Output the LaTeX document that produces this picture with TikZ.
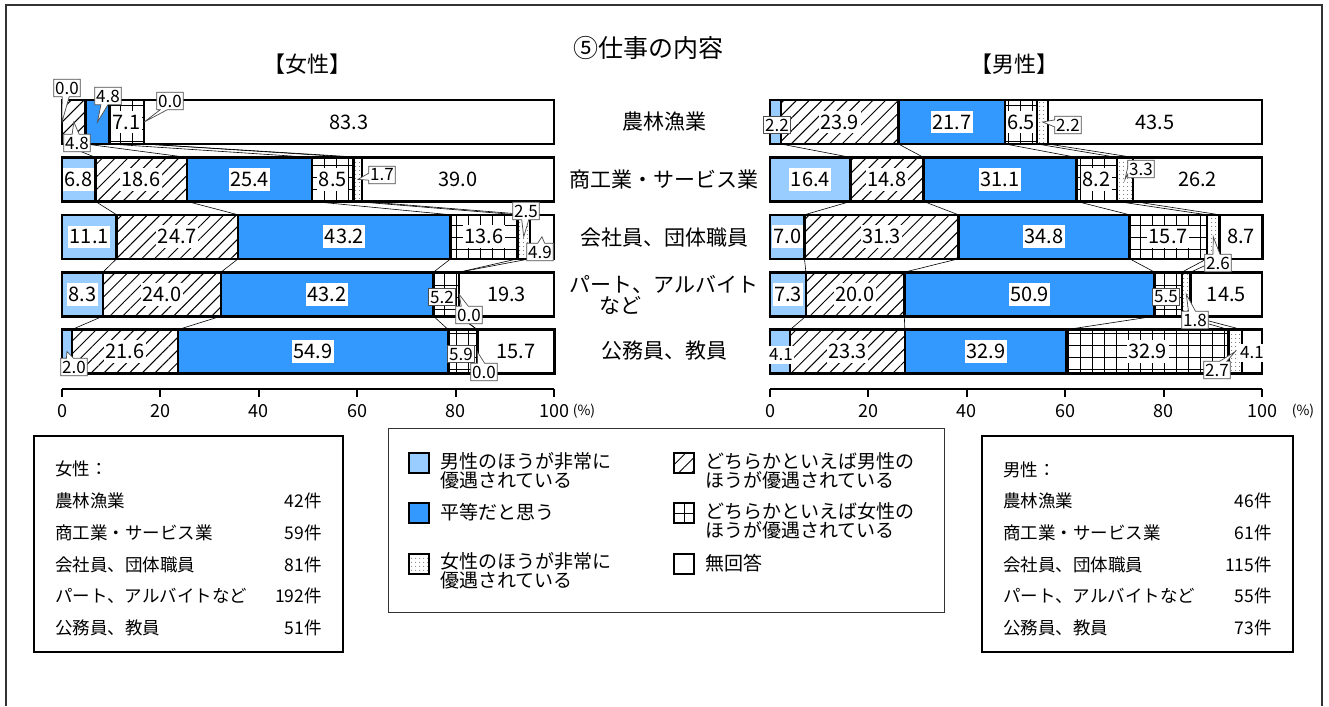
\documentclass[tikz,border=0pt]{standalone}
\usepackage{fontspec}
\setmainfont{Noto Sans CJK JP}
\usetikzlibrary{patterns.meta,shapes.callouts,positioning}
\definecolor{paleblue}{HTML}{99CCFF}
\definecolor{eqblue}{HTML}{3399FF}

\begin{document}
\begin{tikzpicture}[x=1pt,y=-1pt,
    bar/.style={draw=black,line width=2.6pt},
    seg1/.style={bar,fill=paleblue},
    seg2/.style={bar,pattern={Lines[angle=45,distance=9pt,line width=1pt]}},
    seg3/.style={bar,fill=eqblue},
    seg4/.style={bar,pattern={Hatch[angle=0,distance=12pt,line width=1pt]}},
    seg5/.style={bar,pattern={Dots[distance=4pt,radius=0.5pt]}},
    seg6/.style={bar,fill=white},
    link/.style={draw=black,line width=0.6pt},
    axis/.style={draw=black,line width=2pt},
    val/.style={fill=white,inner xsep=1.5pt,inner ysep=4pt,font=\fontsize{20}{22}\selectfont},
    tag/.style={draw=black!70,line width=0.7pt,fill=white,inner xsep=1.5pt,inner ysep=2.5pt,font=\fontsize{17}{18}\selectfont},
    co/.style={tag,rectangle callout,callout pointer width=7pt},
    cat/.style={font=\fontsize{21}{23}\selectfont},
    ax/.style={font=\fontsize{18}{20}\selectfont},
    swatch/.style={line width=3pt,minimum size=20pt,inner sep=0pt},
    leg/.style={font=\fontsize{19}{19}\selectfont,align=left,anchor=west,inner sep=0pt},
    tbl/.style={font=\fontsize{17.5}{19}\selectfont,inner sep=0pt}]
 \useasboundingbox (0,0) rectangle (1329,706);
 \draw[line width=1.6pt,black!80] (6,706) -- (6,5) -- (1322,5) -- (1322,706);

 % titles
 \node[font=\fontsize{25}{27}\selectfont] (title) at (648,48) {⑤仕事の内容};
 \node[font=\fontsize{22}{24}\selectfont] (hW) at (307,64) {【女性】};
 \node[font=\fontsize{22}{24}\selectfont] (hM) at (1014,64) {【男性】};

 % women
 \foreach \vals [count=\r] in {{0.0,4.8,4.8,7.1,0.0,83.3},{6.8,18.6,25.4,8.5,1.7,39.0},
   {11.1,24.7,43.2,13.6,2.5,4.9},{8.3,24.0,43.2,5.2,0.0,19.3},{2.0,21.6,54.9,5.9,0.0,15.7}}{
  \gdef\cum{0}
  \pgfmathsetmacro\yc{122+57.4*(\r-1)}
  \foreach \v [count=\k] in \vals {
   \pgfmathsetmacro\nx{\cum+\v}
   \draw[seg\k] ({62+4.92*\cum},{\yc-22}) rectangle ({62+4.92*\nx},{\yc+22});
   \coordinate (L\r-\k) at ({62+4.92*(\cum+\nx)/2},\yc);
   \coordinate (L\r-\k-t) at ({62+4.92*\nx},{\yc-22});
   \coordinate (L\r-\k-b) at ({62+4.92*\nx},{\yc+22});
   \ifdim\v pt>6pt \node[val] (vL\r-\k) at (L\r-\k) {\v};\fi
   \xdef\cum{\nx}
  }
 }
 % men
 \foreach \vals [count=\r] in {{2.2,23.9,21.7,6.5,2.2,43.5},{16.4,14.8,31.1,8.2,3.3,26.2},
   {7.0,31.3,34.8,15.7,2.6,8.7},{7.3,20.0,50.9,5.5,1.8,14.5},{4.1,23.3,32.9,32.9,2.7,4.1}}{
  \gdef\cum{0}
  \pgfmathsetmacro\yc{122+57.4*(\r-1)}
  \foreach \v [count=\k] in \vals {
   \pgfmathsetmacro\nx{\cum+\v}
   \draw[seg\k] ({770+4.92*\cum},{\yc-22}) rectangle ({770+4.92*\nx},{\yc+22});
   \coordinate (R\r-\k) at ({770+4.92*(\cum+\nx)/2},\yc);
   \coordinate (R\r-\k-t) at ({770+4.92*\nx},{\yc-22});
   \coordinate (R\r-\k-b) at ({770+4.92*\nx},{\yc+22});
   \ifdim\v pt>6pt \node[val] (vR\r-\k) at (R\r-\k) {\v};\fi
   \xdef\cum{\nx}
  }
 }
 \foreach \r [evaluate=\r as \rn using int(\r+1)] in {1,...,4}
  \foreach \k in {1,...,5} {
   \draw[link] (L\r-\k-b) -- (L\rn-\k-t);
   \draw[link] (R\r-\k-b) -- (R\rn-\k-t);
  }

 % axes
 \draw[axis] (62,389) -- (554,389);
 \draw[axis] (770,389) -- (1262,389);
 \foreach \t in {0,20,...,100} {
  \draw[axis] ({62+4.92*\t},389) -- ++(0,8);
  \draw[axis] ({770+4.92*\t},389) -- ++(0,8);
  \node[ax] (xL\t) at ({62+4.92*\t},411) {\t};
  \node[ax] (xR\t) at ({770+4.92*\t},411) {\t};
 }
 \node[font=\fontsize{14}{16}\selectfont] (pW) at (584,411) {(\%)};
 \node[font=\fontsize{14}{16}\selectfont] (pM) at (1303,411) {(\%)};

 % categories
 \node[cat] (c1) at (664,122) {農林漁業};
 \node[cat] (c2) at (664,180) {商工業・サービス業};
 \node[cat] (c3) at (664,238) {会社員、団体職員};
 \node[cat] (c4) at (664,284) {パート、アルバイト};
 \node[cat] (c4b) at (620,305) {など};
 \node[cat] (c5) at (664,351) {公務員、教員};

 % small values
 \node[co,callout absolute pointer={(L1-1)}] (tL1-1) at (67,88) {0.0};
 \node[co,callout absolute pointer={(L1-2)}] (tL1-2) at (77,143) {4.8};
 \node[co,callout absolute pointer={(L1-3)}] (tL1-3) at (108,96) {4.8};
 \node[co,callout absolute pointer={(L1-5)}] (tL1-5) at (170,101) {0.0};
 \node[co,callout absolute pointer={(L2-5)}] (tL2-5) at (382,175) {1.7};
 \node[co,callout absolute pointer={(L3-5)}] (tL3-5) at (526,211) {2.5};
 \node[co,callout absolute pointer={(L3-6)}] (tL3-6) at (540,252) {4.9};
 \node[tag] (tL4-4) at (442,297) {5.2};
 \node[co,callout absolute pointer={(L4-5)}] (tL4-5) at (469,315) {0.0};
 \node[co,callout absolute pointer={(L5-1)}] (tL5-1) at (74,367) {2.0};
 \node[tag] (tL5-4) at (461,354) {5.9};
 \node[co,callout absolute pointer={(L5-5)}] (tL5-5) at (484,372) {0.0};

 \node[tag] (tR1-1) at (777,125) {2.2};
 \node[co,callout absolute pointer={(R1-5)}] (tR1-5) at (1068,125) {2.2};
 \node[co,callout absolute pointer={(R2-5)}] (tR2-5) at (1141,169) {3.3};
 \node[co,callout absolute pointer={(R3-5)}] (tR3-5) at (1218,263) {2.6};
 \node[tag] (tR4-4) at (1166,297) {5.5};
 \node[co,callout absolute pointer={(R4-5)}] (tR4-5) at (1195,320) {1.8};
 \node[tag,draw=none] (tR5-1) at (781,355) {4.1};
 \node[co,callout absolute pointer={(R5-5)}] (tR5-5) at (1217,370) {2.7};
 \node[tag,draw=none] (tR5-6) at (1252,353) {4.1};

 % legend
 \draw[draw=black!80,line width=1pt] (388,428) rectangle (944,612);
 \node[swatch,seg1] (s1) at (419,463) {};
 \node[swatch,seg3] (s3) at (419,513) {};
 \node[swatch,seg5] (s5) at (419,564) {};
 \node[swatch,seg2] (s2) at (684,463) {};
 \node[swatch,seg4] (s4) at (684,513) {};
 \node[swatch,seg6] (s6) at (684,564) {};
 \node[leg] (l1) at (440,471) {男性のほうが非常に\\優遇されている};
 \node[leg] (l3) at (440,512) {平等だと思う};
 \node[leg] (l5) at (440,571) {女性のほうが非常に\\優遇されている};
 \node[leg] (l2) at (705,471) {どちらかといえば男性の\\ほうが優遇されている};
 \node[leg] (l4) at (705,521) {どちらかといえば女性の\\ほうが優遇されている};
 \node[leg] (l6) at (705,563) {無回答};

 % counts
 \draw[line width=1.5pt] (34,436) rectangle (343,652);
 \draw[line width=1.5pt] (982,436) rectangle (1293,652);
 \node[tbl,anchor=west] (nW) at (55,469) {女性：};
 \node[tbl,anchor=west] (nM) at (1003,470) {男性：};
 \foreach \nm/\nw/\nmn [count=\i] in {農林漁業/42件/46件,商工業・サービス業/59件/61件,
   会社員、団体職員/81件/115件,パート、アルバイトなど/192件/55件,公務員、教員/51件/73件} {
  \node[tbl,anchor=west] (aW\i) at (55,{469+31.8*\i}) {\nm};
  \node[tbl,anchor=east] (bW\i) at (322,{469+31.8*\i}) {\nw};
  \node[tbl,anchor=west] (aM\i) at (1003,{469+31.8*\i}) {\nm};
  \node[tbl,anchor=east] (bM\i) at (1272,{469+31.8*\i}) {\nmn};
 }
\end{tikzpicture}
\end{document}
